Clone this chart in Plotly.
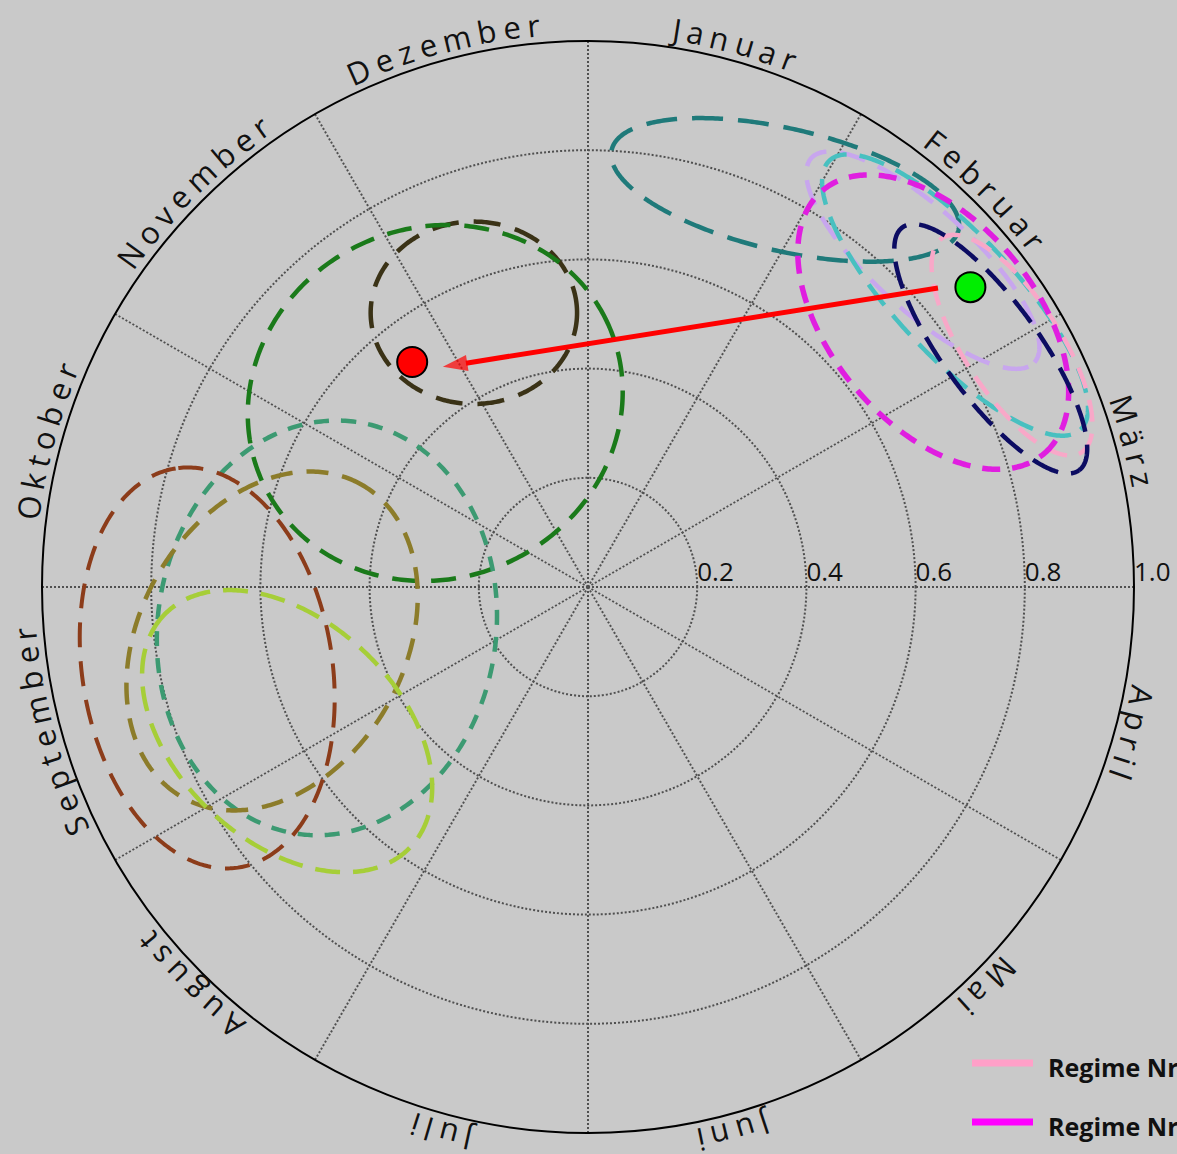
import numpy as np
import plotly.graph_objects as go

W, H = 1177, 1154
BG = "#c9c9c9"

# ---- data -----------------------------------------------------------------
months = ["Januar", "Februar", "März", "April", "Mai", "Juni", "Juli",
          "August", "September", "Oktober", "November", "Dezember"]
radial_ticks = [0.2, 0.4, 0.6, 0.8, 1.0]

# Confidence ellipses of the regimes: centre as resultant length r and phase
# (degrees clockwise from 1 January), semi-axes in r units, major-axis tilt
# (degrees counter-clockwise from the east direction).
ell_r = [0.812, 0.857, 0.859, 0.894, 0.797, 0.857, 0.544, 0.438, 0.484, 0.713, 0.587, 0.611]
ell_theta = [26.4, 45.7, 51.5, 60.3, 52.5, 59.4, 337.4, 320.3, 261.1, 258.0, 260.3, 244.4]
ell_a = [0.326, 0.277, 0.337, 0.234, 0.315, 0.275, 0.189, 0.348, 0.381, 0.370, 0.330, 0.310]
ell_b = [0.112, 0.092, 0.110, 0.088, 0.187, 0.088, 0.167, 0.321, 0.310, 0.229, 0.242, 0.203]
ell_tilt = [-13, -42.5, -47, -57, -50, -54, 0, 25, 82, 99, 60, 137]

# Regime shift: start (green) and end (red) state, and the arrow between them
start_r, start_theta = 0.890, 51.9
end_r, end_theta = 0.523, 322.0
arrow_r = [0.843, 0.483]
arrow_theta = [49.5, 326.6]

legend_labels = ["Regime Nr. 1", "Regime Nr. 2"]

# ---- styles ---------------------------------------------------------------
ell_colors = ["#1f7a7a", "#c8a6ee", "#48c0c0", "#f8a8c8", "#e01ee0", "#0c0c62",
              "#3a3216", "#1a7a1a", "#3c9a72", "#8c3c1a", "#8c7c2a", "#a6ce38"]
ell_dash = ["31px,15px", "26px,14px", "26px,13px", "22px,12px", "18px,12px", "28px,13px",
            "27px,15px", "25px,14px", "15px,12px", "25px,14px", "22px,14px", "25px,13px"]
ell_width = [4.5, 4.5, 4.5, 4.5, 5.5, 4.5, 4.5, 4.5, 4.5, 4, 4.5, 4.5]
legend_colors = ["#ffa0c8", "#ff00ff"]

fig = go.Figure()

# ---- ellipses -------------------------------------------------------------
t = np.linspace(0, 2 * np.pi, 400)
for r0, th0, a, b, tilt, col, dash, lw in zip(ell_r, ell_theta, ell_a, ell_b, ell_tilt,
                                              ell_colors, ell_dash, ell_width):
    cx = r0 * np.sin(np.radians(th0))
    cy = r0 * np.cos(np.radians(th0))
    phi = np.radians(tilt)
    x = cx + a * np.cos(t) * np.cos(phi) - b * np.sin(t) * np.sin(phi)
    y = cy + a * np.cos(t) * np.sin(phi) + b * np.sin(t) * np.cos(phi)
    rr = np.hypot(x, y)
    th = np.degrees(np.arctan2(x, y))
    fig.add_trace(go.Scatterpolar(r=rr, theta=th, mode="lines",
                                  line=dict(color=col, width=lw, dash=dash),
                                  showlegend=False, hoverinfo="skip"))

# ---- arrow and states -----------------------------------------------------
fig.add_trace(go.Scatterpolar(r=arrow_r, theta=arrow_theta, mode="lines+markers",
                              line=dict(color="#ff0000", width=5),
                              marker=dict(symbol=["circle", "arrow"], size=[0, 26],
                                          angleref="previous", color="#ff0000",
                                          line=dict(width=0)),
                              showlegend=False, hoverinfo="skip"))
fig.add_trace(go.Scatterpolar(r=[start_r, end_r], theta=[start_theta, end_theta],
                              mode="markers",
                              marker=dict(size=30, color=["#00ee00", "#ff0000"],
                                          line=dict(color="black", width=2)),
                              showlegend=False, hoverinfo="skip"))

# ---- radial tick labels ---------------------------------------------------
fig.add_trace(go.Scatterpolar(r=radial_ticks, theta=[90] * len(radial_ticks),
                              mode="text", text=[f"{v:.1f}" for v in radial_ticks],
                              textposition="top right", cliponaxis=False,
                              textfont=dict(family="Open Sans", size=26, color="#111111"),
                              showlegend=False, hoverinfo="skip"))

# ---- polar frame ----------------------------------------------------------
dom_x = [42 / W, 1134 / W]
dom_y = [1 - 1133 / H, 1 - 41 / H]
fig.update_layout(
    width=W, height=H,
    paper_bgcolor=BG, plot_bgcolor=BG,
    margin=dict(l=0, r=0, t=0, b=0, autoexpand=False),
    showlegend=False,
    polar=dict(
        domain=dict(x=dom_x, y=dom_y),
        bgcolor=BG,
        radialaxis=dict(range=[0, 1], tick0=0, dtick=0.2, showticklabels=False,
                        ticks="", showline=False, gridcolor="#505050",
                        gridwidth=1.5, griddash="2px,2px"),
        angularaxis=dict(rotation=90, direction="clockwise", tick0=0, dtick=30,
                         showticklabels=False, ticks="", showline=True,
                         linecolor="black", linewidth=2, gridcolor="#505050",
                         gridwidth=1.5, griddash="2px,2px"),
    ),
)

# ---- month names written along the rim, letter by letter ------------------
adv = {"A": .633, "D": .72, "F": .53, "J": .29, "M": .90, "N": .756, "O": .779,
       "S": .539, "a": .556, "b": .613, "e": .561, "g": .548, "i": .253, "k": .525,
       "l": .253, "m": .93, "n": .614, "o": .604, "p": .613, "r": .408, "s": .477,
       "t": .356, "u": .614, "v": .501, "z": .478, "ä": .556}
fs = 31
track = 7.0
ccx = (dom_x[0] + dom_x[1]) / 2 * W
ccy = (1 - (dom_y[0] + dom_y[1]) / 2) * H
rt = 565.0
annotations = []
for i, name in enumerate(months):
    centre = 15 + 30 * i
    widths = [adv.get(c, .55) * fs for c in name]
    total = sum(widths) + track * (len(name) - 1)
    s = 0.0
    for c, w in zip(name, widths):
        pos = s + w / 2 - total / 2
        ang = centre + np.degrees(pos / rt)
        s += w + track
        px = ccx + rt * np.sin(np.radians(ang))
        py = ccy - rt * np.cos(np.radians(ang))
        annotations.append(dict(x=px / W, y=1 - py / H, xref="paper", yref="paper",
                                text=c, showarrow=False, xanchor="center",
                                yanchor="middle", textangle=((ang + 180) % 360) - 180,
                                font=dict(family="Open Sans", size=fs, color="#111111")))

# ---- legend (cut by the right border) -------------------------------------
shapes = []
for k, (lab, col) in enumerate(zip(legend_labels, legend_colors)):
    yc = 1063 + 59 * k
    shapes.append(dict(type="line", xref="paper", yref="paper",
                       x0=972 / W, x1=1033 / W, y0=1 - yc / H, y1=1 - yc / H,
                       line=dict(color=col, width=7)))
    annotations.append(dict(x=1046 / W, y=1 - (yc + 4) / H, xref="paper", yref="paper",
                            text=lab, showarrow=False, xanchor="left", yanchor="middle",
                            font=dict(family="Open Sans", size=25, color="#111111",
                                      weight="bold")))

fig.update_layout(annotations=annotations, shapes=shapes)
fig.write_html("out.html")
